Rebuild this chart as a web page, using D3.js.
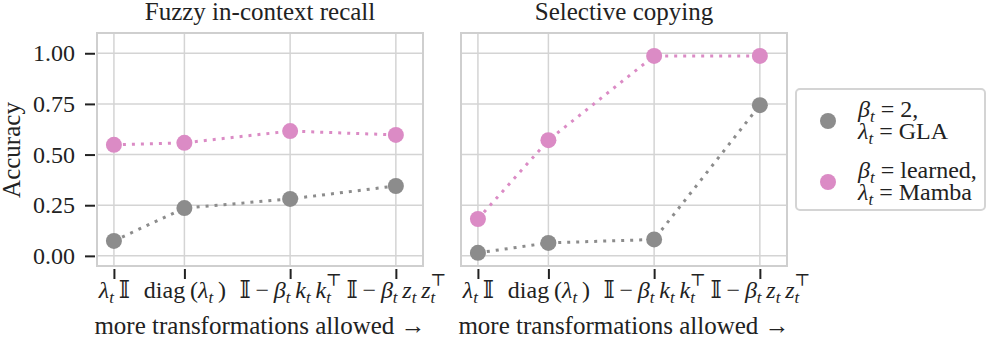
<!DOCTYPE html>
<html lang="en">
<head>
  <meta charset="utf-8" />
  <title>Accuracy vs transformations</title>
  <script src="https://cdn.jsdelivr.net/npm/d3@7"></script>
  <style>
    body { margin: 0; background: #fff; }
    text { font-family: "Liberation Serif", "DejaVu Serif", serif; fill: #222; }
  </style>
</head>
<body>
  <script>
    // data
    var panels = ["Fuzzy in-context recall", "Selective copying"];
    var xPos = [0, 2, 5, 8];
    var yTicks = [0, 0.25, 0.5, 0.75, 1.0];
    var seriesNames = ["gla", "mamba"];
    var gla = [[0.074, 0.236, 0.281, 0.345], [0.015, 0.064, 0.081, 0.744]];
    var mamba = [[0.548, 0.558, 0.616, 0.597], [0.182, 0.571, 0.987, 0.987]];
    var colors = { gla: "#8c8c8c", mamba: "#db8bc5" };

    // tick labels as little math token lists: s = text, i = italic, sub/sup
    var xLabels = [
      [{ s: "λ", i: 1 }, { s: "t", i: 1, sub: 1 }, { s: "\u2009𝕀" }],
      [{ s: "diag\u2009(" }, { s: "λ", i: 1 }, { s: "t", i: 1, sub: 1 }, { s: "\u2009)" }],
      [{ s: "𝕀\u2009−\u2009" }, { s: "β", i: 1 }, { s: "t", i: 1, sub: 1 }, { s: "\u2009k", i: 1 }, { s: "t", i: 1, sub: 1 },
       { s: "\u2009k", i: 1 }, { s: "t", i: 1, sub: 1 }, { s: "⊤", sup: 1, back: 1 }],
      [{ s: "𝕀\u2009−\u2009" }, { s: "β", i: 1 }, { s: "t", i: 1, sub: 1 }, { s: "\u2009z", i: 1 }, { s: "t", i: 1, sub: 1 },
       { s: "\u2009z", i: 1 }, { s: "t", i: 1, sub: 1 }, { s: "⊤", sup: 1, back: 1 }]
    ];
    var legendLines = {
      gla: [[{ s: "β", i: 1 }, { s: "t", i: 1, sub: 1 }, { s: " = 2," }],
            [{ s: "λ", i: 1 }, { s: "t", i: 1, sub: 1 }, { s: " = GLA" }]],
      mamba: [[{ s: "β", i: 1 }, { s: "t", i: 1, sub: 1 }, { s: " = learned," }],
              [{ s: "λ", i: 1 }, { s: "t", i: 1, sub: 1 }, { s: " = Mamba" }]]
    };

    var width = 987, height = 347;
    var fs = 25;
    var svg = d3.select("body").append("svg")
      .attr("width", width)
      .attr("height", height);

    function mathText(sel, tokens, subSize) {
      var cur = 0;
      tokens.forEach(function (tk) {
        var shift = tk.sub ? 5 : (tk.sup ? -12 : 0);
        var ts = sel.append("tspan").text(tk.s).attr("dy", shift - cur);
        cur = shift;
        if (tk.i) ts.attr("font-style", "italic");
        if (tk.sub || tk.sup) ts.attr("font-size", subSize);
        if (tk.back) ts.attr("dx", -subSize * 0.3);
      });
      if (cur !== 0) sel.append("tspan").text("\u200b").attr("dy", -cur);
    }

    var panelLeft = [97, 461];
    var panelW = 326;
    var plotTop = 33, plotBottom = 266;

    var y = d3.scaleLinear().domain([-0.05, 1.1]).range([plotBottom, plotTop]);

    panels.forEach(function (title, p) {
      var x = d3.scaleLinear().domain([-0.48, 8.77]).range([panelLeft[p], panelLeft[p] + panelW]);
      var g = svg.append("g");

      // grid
      g.selectAll(".hgrid").data(yTicks).enter().append("line")
        .attr("x1", panelLeft[p]).attr("x2", panelLeft[p] + panelW)
        .attr("y1", function (d) { return y(d); }).attr("y2", function (d) { return y(d); })
        .attr("stroke", "#d4d4d4").attr("stroke-width", 1.5);
      g.selectAll(".vgrid").data(xPos).enter().append("line")
        .attr("y1", plotTop).attr("y2", plotBottom)
        .attr("x1", function (d) { return x(d); }).attr("x2", function (d) { return x(d); })
        .attr("stroke", "#d4d4d4").attr("stroke-width", 1.5);

      // frame
      g.append("rect")
        .attr("x", panelLeft[p]).attr("y", plotTop)
        .attr("width", panelW).attr("height", plotBottom - plotTop)
        .attr("fill", "none").attr("stroke", "#cfcfcf").attr("stroke-width", 2);

      // y axis only on first panel
      if (p === 0) {
        var ya = g.append("g")
          .attr("transform", "translate(" + (panelLeft[p] - 2) + ",0)")
          .call(d3.axisLeft(y).tickValues(yTicks).tickSize(10).tickPadding(10)
            .tickFormat(d3.format(".2f")));
        ya.select(".domain").remove();
        ya.selectAll("line").attr("stroke", "#222").attr("stroke-width", 2);
        ya.selectAll("text").attr("font-size", 24).attr("font-family", "Liberation Serif").attr("fill", "#222");
      }

      // x axis ticks
      var xa = g.append("g")
        .attr("transform", "translate(0," + (plotBottom + 3) + ")")
        .call(d3.axisBottom(x).tickValues(xPos).tickSize(10).tickFormat(""));
      xa.select(".domain").remove();
      xa.selectAll("line").attr("stroke", "#222").attr("stroke-width", 2);
      xa.selectAll(".tick").each(function (d, i) {
        var t = d3.select(this).append("text")
          .attr("y", 29).attr("text-anchor", "middle")
          .attr("font-size", 24).attr("fill", "#222");
        mathText(t, xLabels[i], 17);
      });

      // lines + markers
      [gla[p], mamba[p]].forEach(function (vals, s) {
        var c = colors[seriesNames[s]];
        g.append("path")
          .datum(vals)
          .attr("d", d3.line()
            .x(function (d, i) { return x(xPos[i]); })
            .y(function (d) { return y(d); }))
          .attr("fill", "none")
          .attr("stroke", c)
          .attr("stroke-width", 3)
          .attr("stroke-dasharray", "3,6");
        g.selectAll(".pt" + s).data(vals).enter().append("circle")
          .attr("cx", function (d, i) { return x(xPos[i]); })
          .attr("cy", function (d) { return y(d); })
          .attr("r", 8)
          .attr("fill", c);
      });

      // title + x label
      g.append("text")
        .attr("x", panelLeft[p] + panelW / 2).attr("y", 20)
        .attr("text-anchor", "middle").attr("font-size", fs)
        .text(title);
      g.append("text")
        .attr("x", panelLeft[p] + panelW / 2).attr("y", 334)
        .attr("text-anchor", "middle").attr("font-size", fs)
        .text("more transformations allowed →");
    });

    svg.append("text")
      .attr("transform", "translate(20,150) rotate(-90)")
      .attr("text-anchor", "middle").attr("font-size", fs)
      .text("Accuracy");

    // legend
    var lg = svg.append("g");
    lg.append("rect")
      .attr("x", 796).attr("y", 89).attr("width", 189).attr("height", 121).attr("rx", 4)
      .attr("fill", "#fff").attr("stroke", "#d4d4d4").attr("stroke-width", 2);
    seriesNames.forEach(function (name, k) {
      var cy = 121 + k * 61;
      lg.append("circle").attr("cx", 828).attr("cy", cy).attr("r", 8).attr("fill", colors[name]);
      legendLines[name].forEach(function (line, j) {
        var t = lg.append("text")
          .attr("x", 858).attr("y", cy - 4 + j * 22)
          .attr("font-size", 24);
        mathText(t, line, 17);
      });
    });
  </script>
</body>
</html>
